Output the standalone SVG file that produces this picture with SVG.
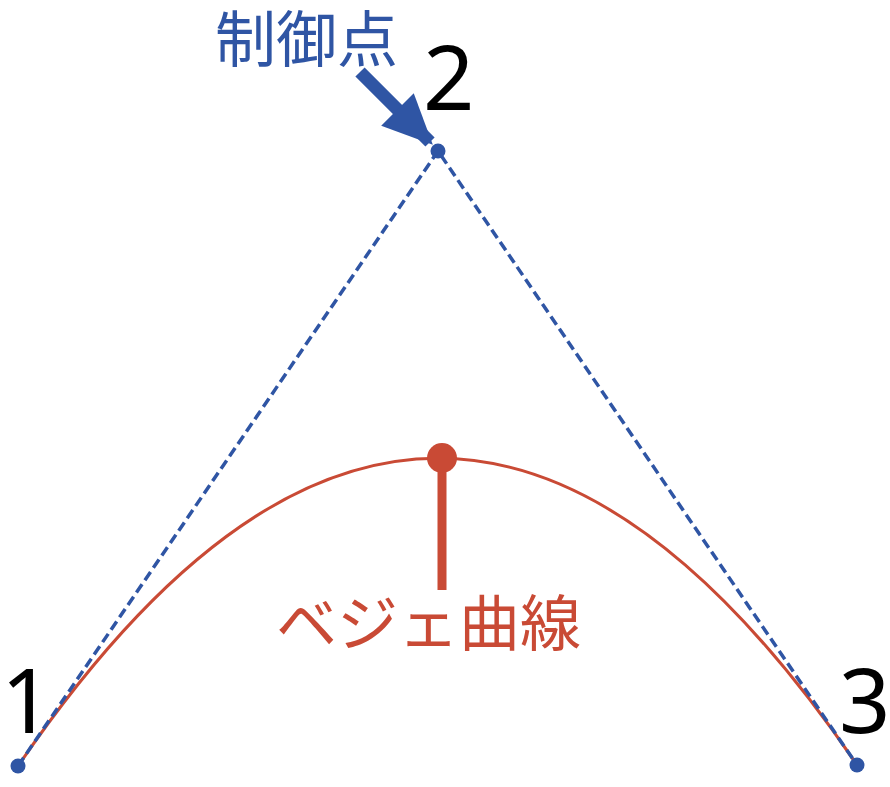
<svg xmlns="http://www.w3.org/2000/svg" width="890" height="787" viewBox="0 0 890 787">
<style>
.num{font-family:"Noto Sans","Liberation Sans",sans-serif;font-size:90px;fill:#000}
.jp{font-family:"Noto Sans CJK JP",sans-serif;font-size:61px;font-weight:400}
.blue{fill:#2f55a4}
.red{fill:#c94a35}
</style>
<defs>
<marker id="ah" markerUnits="userSpaceOnUse" markerWidth="50" markerHeight="50" refX="46" refY="25" orient="auto" viewBox="0 0 50 50">
<path d="M0,2 L50,25 L0,48 Z" fill="#2f55a4"/>
</marker>
</defs>
<rect width="890" height="787" fill="#fff"/>
<g id="connectors">
<path id="bezier" d="M18,766 Q438,151 857,765" fill="none" stroke="#c94a35" stroke-width="3"/>
<polyline id="control-polygon" points="18,766 438,151 857,765" fill="none" stroke="#2f55a4" stroke-width="3.5" stroke-dasharray="10,5"/>
<line id="label-arrow" x1="360" y1="72" x2="430" y2="142" stroke="#2f55a4" stroke-width="13" marker-end="url(#ah)"/>
<line id="bezier-stem" x1="442" y1="458" x2="442" y2="590" stroke="#c94a35" stroke-width="9"/>
</g>
<g id="point1">
<circle cx="18" cy="766" r="7.5" fill="#2f55a4"/>
<text class="num" x="1" y="733">1</text>
</g>
<g id="point2">
<circle cx="438" cy="151" r="7.5" fill="#2f55a4"/>
<text class="num" x="423" y="110">2</text>
</g>
<g id="point3">
<circle cx="857" cy="765" r="7.5" fill="#2f55a4"/>
<text class="num" x="839" y="733">3</text>
</g>
<g id="control-label">
<text class="jp blue" x="215" y="62">制御点</text>
</g>
<g id="bezier-label">
<circle cx="442" cy="458" r="15" fill="#c94a35"/>
<text class="jp red" x="276" y="646">ベジェ曲線</text>
</g>
</svg>
